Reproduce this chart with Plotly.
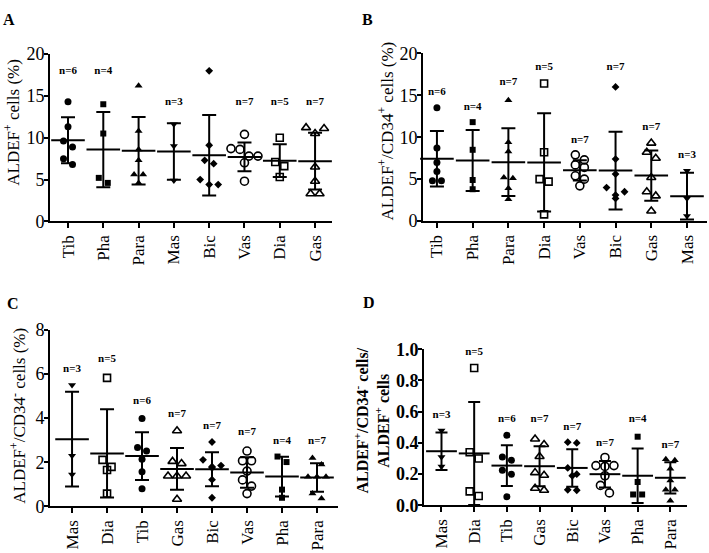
import plotly.graph_objects as go

W, H = 709, 553
FONT = "Liberation Serif"

# ---------------- data ----------------
A_cats = ["Tib", "Pha", "Para", "Mas", "Bic", "Vas", "Dia", "Gas"]
A_points = [
    [14.3, 11.3, 9.6, 8.9, 7.5, 6.8],
    [14.0, 10.5, 5.2, 4.6],
    [16.2, 10.8, 8.6, 7.3, 5.6, 5.6, 4.6],
    [11.6, 9.0, 4.9],
    [18.0, 9.1, 7.3, 6.9, 5.0, 4.4, 4.4],
    [10.4, 8.7, 8.6, 7.8, 7.8, 7.0, 4.8],
    [10.0, 7.1, 6.6, 5.3],
    [11.2, 11.1, 10.5, 6.5, 4.8, 3.3, 3.3],
]
A_mean = [9.71, 8.58, 8.44, 8.35, 7.9, 7.7, 7.26, 7.2]
A_sd = [2.75, 4.5, 4.03, 3.38, 4.8, 1.72, 1.96, 3.4]
A_n = [6, 4, 7, 3, 7, 7, 5, 7]
A_n_y = [18.0, 18.0, 20.1, 14.2, 20.1, 14.2, 14.2, 14.2]

B_cats = ["Tib", "Pha", "Para", "Dia", "Vas", "Bic", "Gas", "Mas"]
B_points = [
    [13.5, 8.7, 7.0, 5.9, 4.8, 4.8],
    [11.8, 8.5, 4.9, 3.8],
    [14.4, 9.4, 8.3, 5.2, 5.1, 3.9, 2.6],
    [16.4, 8.2, 5.0, 4.7, 0.8],
    [7.9, 7.3, 6.7, 6.4, 5.4, 5.0, 4.2],
    [16.0, 7.4, 5.6, 4.0, 3.5, 3.1, 2.7],
    [9.3, 8.2, 7.5, 5.2, 3.5, 3.0, 1.2],
    [6.0, 2.7, 0.6],
]
B_mean = [7.43, 7.22, 7.03, 7.0, 6.05, 6.02, 5.43, 2.97]
B_sd = [3.3, 3.63, 4.05, 5.85, 1.2, 4.64, 3.0, 2.78]
B_n = [6, 4, 7, 5, 7, 7, 7, 3]
B_n_y = [15.4, 13.6, 16.6, 18.3, 9.6, 18.3, 11.2, 7.85]

C_cats = ["Mas", "Dia", "Tib", "Gas", "Bic", "Vas", "Pha", "Para"]
C_points = [
    [5.5, 2.3, 1.45],
    [5.83, 2.11, 1.79, 1.65, 0.58],
    [3.98, 2.67, 2.51, 2.14, 1.57, 0.8],
    [3.43, 2.04, 1.94, 1.38, 1.38, 1.38, 0.32],
    [2.92, 2.11, 1.85, 1.8, 1.75, 1.21, 0.39],
    [2.51, 2.07, 2.07, 1.6, 1.2, 0.92, 0.58],
    [2.26, 2.01, 0.76, 0.39],
    [2.19, 1.9, 1.34, 1.34, 1.34, 0.58, 0.36],
]
C_mean = [3.05, 2.4, 2.28, 1.7, 1.68, 1.54, 1.35, 1.31]
C_sd = [2.15, 2.0, 1.08, 0.95, 0.77, 0.69, 0.9, 0.65]
C_n = [3, 5, 6, 7, 7, 7, 4, 7]
C_n_y = [6.22, 6.66, 4.77, 4.18, 3.64, 3.35, 2.94, 2.94]

D_cats = ["Mas", "Dia", "Tib", "Gas", "Bic", "Vas", "Pha", "Para"]
D_points = [
    [0.48, 0.31, 0.25],
    [0.88, 0.34, 0.30, 0.09, 0.06],
    [0.45, 0.31, 0.29, 0.225, 0.2, 0.056],
    [0.425, 0.39, 0.313, 0.21, 0.193, 0.11, 0.097],
    [0.405, 0.40, 0.24, 0.2, 0.19, 0.1, 0.097],
    [0.307, 0.255, 0.255, 0.25, 0.19, 0.128, 0.08],
    [0.44, 0.15, 0.07, 0.07],
    [0.295, 0.29, 0.235, 0.16, 0.1, 0.1, 0.03],
]
D_mean = [0.347, 0.333, 0.255, 0.251, 0.24, 0.2, 0.19, 0.177]
D_sd = [0.12, 0.33, 0.13, 0.128, 0.12, 0.085, 0.175, 0.1]
D_n = [3, 5, 6, 7, 7, 7, 4, 7]
D_n_y = [0.58, 0.98, 0.55, 0.55, 0.5, 0.4, 0.55, 0.385]

A_title = "ALDEF<sup>+</sup> cells (%)"
B_title = "ALDEF<sup>+</sup>/CD34<sup>+</sup> cells (%)"
C_title = "ALDEF<sup>+</sup>/CD34<sup>-</sup> cells (%)"
D_title = "<b>ALDEF<sup>+</sup>/CD34<sup>-</sup> cells/</b><br><b>ALDEF<sup>+</sup> cells</b>"

# ---------------- styles ----------------
MARKERS = {
    "Tib": ("circle", 7, 0),
    "Pha": ("square", 6, 0),
    "Para": ("triangle-up", 7, 0),
    "Mas": ("triangle-down", 7, 0),
    "Bic": ("diamond", 6, 0),
    "Vas": ("circle-open", 8, 1.6),
    "Dia": ("square-open", 7, 1.6),
    "Gas": ("triangle-up-open", 8, 1.6),
}

PANELS = [
    dict(key="A", cats=A_cats, pts=A_points, mean=A_mean, sd=A_sd, n=A_n, ny=A_n_y,
         box=(50, 332, 45.7, 219.3), xr=(-0.51, 7.48), yr=(0, 20), dtick=5, fmt="",
         mw=24, cap=7, title=A_title, tpos=(12, 117), letter=(9, 10), bold=False),
    dict(key="B", cats=B_cats, pts=B_points, mean=B_mean, sd=B_sd, n=B_n, ny=B_n_y,
         box=(423, 707, 45, 219), xr=(-0.39, 7.56), yr=(0, 20), dtick=5, fmt="",
         mw=24, cap=7, title=B_title, tpos=(386, 126), letter=(367, 10), bold=False),
    dict(key="C", cats=C_cats, pts=C_points, mean=C_mean, sd=C_sd, n=C_n, ny=C_n_y,
         box=(50, 338, 332, 515), xr=(-0.63, 7.6), yr=(0, 8), dtick=2, fmt="",
         mw=24, cap=7, title=C_title, tpos=(18, 421), letter=(13, 304), bold=False),
    dict(key="D", cats=D_cats, pts=D_points, mean=D_mean, sd=D_sd, n=D_n, ny=D_n_y,
         box=(424, 687, 352, 514), xr=(-0.535, 7.51), yr=(0, 1.0), dtick=0.2, fmt=".1f",
         mw=22, cap=6, title=D_title, tpos=(372, 426), letter=(369, 303), bold=True),
]


def swarm_offsets(vals, ppu, ppc, row_px=8.0, step_px=9.0):
    """Column-scatter spreading: points closer than row_px vertically share a row."""
    order = sorted(range(len(vals)), key=lambda i: -vals[i])
    rows, cur = [], [order[0]]
    for i in order[1:]:
        if (vals[cur[0]] - vals[i]) * ppu < row_px:
            cur.append(i)
        else:
            rows.append(cur)
            cur = [i]
    rows.append(cur)
    offs = [0.0] * len(vals)
    for r in rows:
        k = len(r)
        if k == 3:
            pattern = [-1, 1, 0]
        else:
            pattern = [j - (k - 1) / 2 for j in range(k)]
        for idx, p in zip(r, pattern):
            offs[idx] = p * step_px / ppc
    return offs


fig = go.Figure()
layout_axes = {}
annotations = []

for pi, P in enumerate(PANELS):
    ax = "" if pi == 0 else str(pi + 1)
    xref, yref = "x" + ax, "y" + ax
    L, R, T, B = P["box"]
    ppc = (R - L) / (P["xr"][1] - P["xr"][0])
    ppu = (B - T) / (P["yr"][1] - P["yr"][0])

    for ci, cat in enumerate(P["cats"]):
        vals = P["pts"][ci]
        offs = swarm_offsets(vals, ppu, ppc)
        sym, size, lw = MARKERS[cat]
        fig.add_trace(go.Scatter(
            x=[ci + o for o in offs], y=vals, mode="markers",
            xaxis=xref, yaxis=yref, showlegend=False, hoverinfo="y",
            marker=dict(symbol=sym, size=size, color="black",
                        line=dict(color="black", width=lw)),
            cliponaxis=False,
        ))

    # mean +/- SD
    fig.add_trace(go.Scatter(
        x=list(range(len(P["cats"]))), y=P["mean"], mode="markers",
        xaxis=xref, yaxis=yref, showlegend=False, hoverinfo="y",
        marker=dict(symbol="line-ew", size=P["mw"], color="black",
                    line=dict(color="black", width=2)),
        error_y=dict(type="data", array=P["sd"], visible=True, color="black",
                     thickness=2, width=P["cap"]),
        cliponaxis=False,
    ))

    # n labels
    fig.add_trace(go.Scatter(
        x=list(range(len(P["cats"]))), y=P["ny"], mode="text",
        text=[f"<b>n={v}</b>" for v in P["n"]],
        textfont=dict(family=FONT, size=11, color="black"),
        xaxis=xref, yaxis=yref, showlegend=False, hoverinfo="skip",
        cliponaxis=False,
    ))

    ytickfont = dict(family=FONT, size=18, color="black",
                     weight="bold" if P["bold"] else "normal")
    layout_axes["xaxis" + ax] = dict(
        domain=[L / W, R / W], range=list(P["xr"]), anchor=yref,
        tickmode="array", tickvals=list(range(len(P["cats"]))), ticktext=P["cats"],
        tickangle=-90, tickfont=dict(family=FONT, size=17, color="black"),
        showline=True, linewidth=2, linecolor="black", ticks="outside",
        ticklen=5, tickwidth=2, tickcolor="black", showgrid=False, zeroline=False,
        fixedrange=True,
    )
    layout_axes["yaxis" + ax] = dict(
        domain=[1 - B / H, 1 - T / H], range=list(P["yr"]), anchor=xref,
        dtick=P["dtick"], tick0=0, tickformat=P["fmt"], tickfont=ytickfont,
        showline=True, linewidth=2, linecolor="black", ticks="outside",
        ticklen=4, tickwidth=2, tickcolor="black", showgrid=False, zeroline=False,
        ticklabelstandoff=-4, fixedrange=True,
    )

    tx, ty = P["tpos"]
    annotations.append(dict(
        text=P["title"], x=tx / W, y=1 - ty / H, xref="paper", yref="paper",
        xanchor="center", yanchor="middle", textangle=-90, showarrow=False,
        font=dict(family=FONT, size=17 if not P["bold"] else 16, color="black"),
    ))
    lx, ly = P["letter"]
    annotations.append(dict(
        text="<b>" + P["key"] + "</b>", x=lx / W, y=1 - ly / H, xref="paper", yref="paper",
        xanchor="center", yanchor="middle", showarrow=False,
        font=dict(family=FONT, size=16, color="black"),
    ))

fig.update_layout(
    width=W, height=H, margin=dict(l=0, r=0, t=0, b=0),
    paper_bgcolor="white", plot_bgcolor="white",
    annotations=annotations, **layout_axes,
)

fig.write_html("out.html", config={"displayModeBar": False},
               post_script="document.body.style.margin='0px';")
